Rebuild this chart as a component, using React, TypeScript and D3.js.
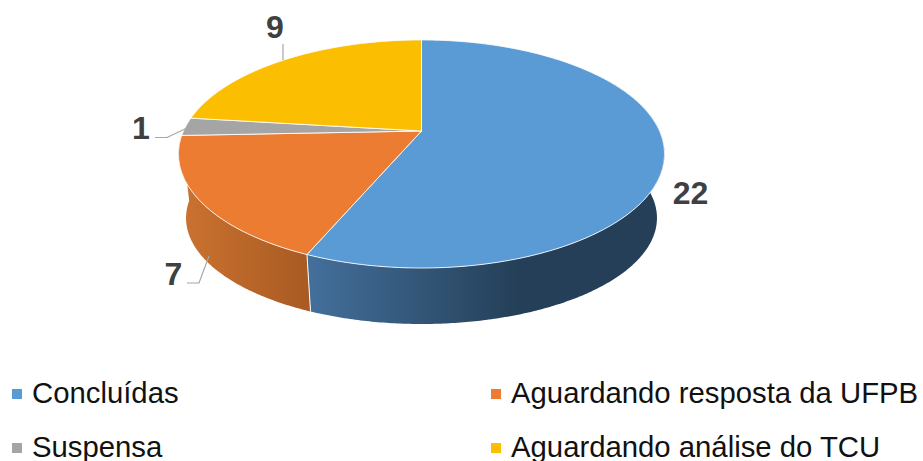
import React from "react";
import * as d3 from "d3";

const categories = ["Concluídas", "Aguardando resposta da UFPB", "Suspensa", "Aguardando análise do TCU"];
const values = [22, 7, 1, 9];
const colors = ["#5B9BD5", "#EB7C31", "#A5A5A5", "#FBBE00"];

const width = 923;
const height = 461;

// apex of the pie and the perspective of the tilted disc
const apex = { x: 421.5, y: 131 };
const radiusX = 238;
const radiusY = 109.4;
const tilt = 0.2015;

const bottomX = d3.scaleLinear().domain([421.5, 664]).range([421.5, 656.5]);
const bottomY = d3.scaleLinear().domain([154, 268]).range([218, 324]);

type Pt = [number, number];

// unit circle angle (clockwise from the top) to screen position
function project(angle: number, r = 1): Pt {
  const u = r * Math.sin(angle);
  const v = -r * Math.cos(angle);
  const w = 1 - tilt * v;
  return [apex.x + (radiusX * u) / w, apex.y + (radiusY * v) / w];
}

function sampleRim(a0: number, a1: number): Pt[] {
  const n = Math.max(2, Math.ceil(Math.abs(a1 - a0) / 0.01));
  return d3.range(n + 1).map((i) => project(a0 + ((a1 - a0) * i) / n));
}

const line = d3.line<Pt>();

const arcs = d3.pie<number>().sort(null).startAngle(0).endAngle(Math.PI * 2)(values);

// side wall as swept quads so the silhouette comes out by itself
function wallPath(a0: number, a1: number) {
  const rim = sampleRim(a0, a1);
  return rim
    .slice(1)
    .map((p, i) => {
      const q = rim[i];
      const quad: Pt[] = [q, p, [bottomX(p[0]), bottomY(p[1])], [bottomX(q[0]), bottomY(q[1])]];
      return line(quad) + "Z";
    })
    .join("");
}

const walls = [
  { id: "wallBlue", from: Math.PI / 3, to: arcs[0].endAngle },
  { id: "wallOrange", from: arcs[1].startAngle, to: arcs[1].endAngle },
];

const dataLabels = [
  { text: String(values[0]), x: 690.5, y: 204 },
  { text: String(values[1]), x: 173.5, y: 285 },
  { text: String(values[2]), x: 141, y: 139 },
  { text: String(values[3]), x: 275, y: 38 },
];

const leaders = [
  "M187,283H199L209,256",
  "M155,137.5H167L187,128",
  "M283,44V60",
];

const legendPos = [
  { x: 12, y: 389 },
  { x: 491, y: 389 },
  { x: 12, y: 443 },
  { x: 491, y: 443 },
];

export default function App() {
  const font = "'Liberation Sans', Arial, sans-serif";
  const seamTop = project(arcs[0].endAngle);
  return (
    <svg
      width={width}
      height={height}
      style={{ position: "absolute", left: 0, top: 0, background: "#fff" }}
      fontFamily={font}
    >
      <defs>
        <linearGradient id="wallBlue" gradientUnits="userSpaceOnUse" x1={310} x2={520} y1={0} y2={0}>
          <stop offset="0" stopColor="#436F9B" />
          <stop offset="1" stopColor="#243F57" />
        </linearGradient>
        <linearGradient id="wallOrange" gradientUnits="userSpaceOnUse" x1={181} x2={312} y1={0} y2={0}>
          <stop offset="0" stopColor="#CB7230" />
          <stop offset="1" stopColor="#A85A22" />
        </linearGradient>
      </defs>

      {walls.map((w) => (
        <path key={w.id} d={wallPath(w.from, w.to)} fill={`url(#${w.id})`} />
      ))}
      {/* white seam between the two visible walls */}
      <path
        d={line([seamTop, [bottomX(seamTop[0]), bottomY(seamTop[1])]]) || ""}
        stroke="#fff"
        strokeWidth={1}
        fill="none"
      />

      {arcs.map((a, i) => (
        <path
          key={categories[i]}
          d={line([[apex.x, apex.y], ...sampleRim(a.startAngle, a.endAngle)]) + "Z"}
          fill={colors[i]}
          stroke="#fff"
          strokeOpacity={0.85}
          strokeWidth={1}
          strokeLinejoin="round"
        />
      ))}

      {leaders.map((d) => (
        <path key={d} d={d} fill="none" stroke="#A6A6A6" strokeWidth={1.2} />
      ))}
      {dataLabels.map((l) => (
        <text key={l.text} x={l.x} y={l.y} textAnchor="middle" fontSize={32} fontWeight="bold" fill="#404040">
          {l.text}
        </text>
      ))}

      {categories.map((c, i) => (
        <g key={c}>
          <rect x={legendPos[i].x} y={legendPos[i].y} width={10} height={10} fill={colors[i]} />
          <text x={legendPos[i].x + 20} y={legendPos[i].y + 14} fontSize={29.3} fill="#111">
            {c}
          </text>
        </g>
      ))}
    </svg>
  );
}
